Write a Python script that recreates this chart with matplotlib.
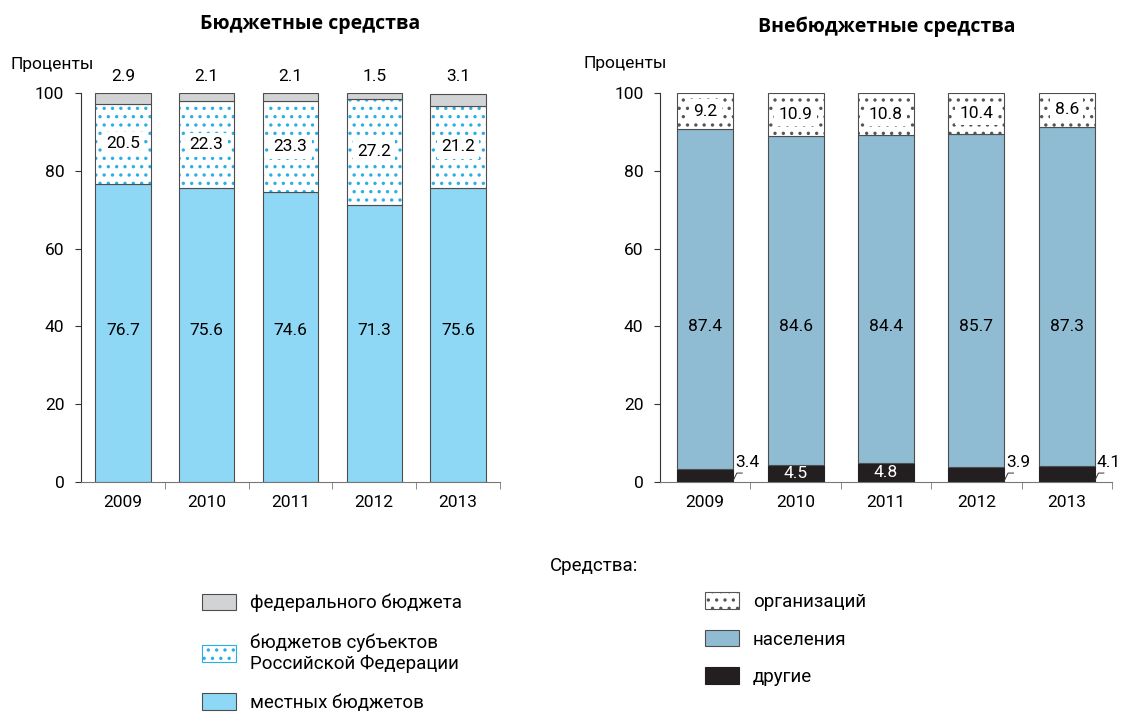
import matplotlib
matplotlib.use("Agg")
import matplotlib.pyplot as plt
from matplotlib.patches import Patch
import numpy as np

plt.rcParams['font.family'] = ['Roboto', 'DejaVu Sans']
plt.rcParams['hatch.linewidth'] = 1.2

years = ['2009', '2010', '2011', '2012', '2013']

# бюджетные средства
federal = [2.9, 2.1, 2.1, 1.5, 3.1]
subjects = [20.5, 22.3, 23.3, 27.2, 21.2]
local = [76.7, 75.6, 74.6, 71.3, 75.6]

# внебюджетные средства
other = [3.4, 4.5, 4.8, 3.9, 4.1]
population = [87.4, 84.6, 84.4, 85.7, 87.3]
organizations = [9.2, 10.9, 10.8, 10.4, 8.6]
other_inside = [False, True, True, False, False]

c_fed = '#d1d3d4'
c_loc = '#8fd8f5'
c_pop = '#8fbcd2'
c_oth = '#231f20'
c_cyan = '#29aee6'
c_edge = '#4d4d4d'
fs = 12.5

fig = plt.figure(figsize=(11.23, 7.16), dpi=100)
ax1 = fig.add_axes([0.0721, 0.3268, 0.373, 0.543])
ax2 = fig.add_axes([0.5877, 0.3268, 0.4025, 0.543])

x = np.arange(len(years))
box = dict(boxstyle='square,pad=0.25', fc='white', ec='none')


def style_axis(ax):
    ax.set_xlim(-0.5, 4.5)
    ax.set_ylim(0, 100)
    ax.spines['top'].set_visible(False)
    ax.spines['right'].set_visible(False)
    ax.spines['left'].set_color('#333333')
    ax.spines['bottom'].set_color('#777777')
    ax.set_yticks([0, 20, 40, 60, 80, 100])
    ax.tick_params(axis='y', length=4, color='#333333', labelsize=fs, pad=8)
    ax.set_xticks(x)
    ax.set_xticklabels(years)
    ax.tick_params(axis='x', length=0, labelsize=fs, pad=9)
    ax.set_xticks(np.arange(0.5, 5, 1), minor=True)
    ax.tick_params(axis='x', which='minor', length=5, color='#777777')


# ---- left chart
w1 = 0.66
loc = np.array(local)
sub = np.array(subjects)
ax1.bar(x, loc, w1, color=c_loc, edgecolor=c_edge, linewidth=0.8)
ax1.bar(x, sub, w1, bottom=loc, color='white', edgecolor=c_cyan,
        hatch='..', linewidth=0)
ax1.bar(x, sub, w1, bottom=loc, color='none', edgecolor=c_edge, linewidth=0.8)
ax1.bar(x, federal, w1, bottom=loc + sub, color=c_fed, edgecolor=c_edge,
        linewidth=0.8)
for i in range(len(years)):
    ax1.text(x[i], 39, f'{local[i]:.1f}', ha='center', va='center', fontsize=fs)
    ax1.text(x[i], loc[i] + sub[i] / 2, f'{subjects[i]:.1f}', ha='center',
             va='center', fontsize=fs, bbox=box)
    ax1.text(x[i], 102.5, f'{federal[i]:.1f}', ha='center', va='bottom',
             fontsize=fs, clip_on=False)
style_axis(ax1)

# ---- right chart
w2 = 0.62
oth = np.array(other)
pop = np.array(population)
ax2.bar(x, oth, w2, color=c_oth, edgecolor=c_oth, linewidth=0.8)
ax2.bar(x, pop, w2, bottom=oth, color=c_pop, edgecolor=c_edge, linewidth=0.8)
ax2.bar(x, organizations, w2, bottom=oth + pop, color='white',
        edgecolor='#555555', hatch='..', linewidth=0)
ax2.bar(x, organizations, w2, bottom=oth + pop, color='none',
        edgecolor=c_edge, linewidth=0.8)
for i in range(len(years)):
    ax2.text(x[i], 40, f'{population[i]:.1f}', ha='center', va='center',
             fontsize=fs)
    ax2.text(x[i], oth[i] + pop[i] + organizations[i] / 2,
             f'{organizations[i]:.1f}', ha='center', va='center', fontsize=fs,
             bbox=box)
    if other_inside[i]:
        ax2.text(x[i], oth[i] / 2, f'{other[i]:.1f}', ha='center',
                 va='center', fontsize=fs, color='white')
    else:
        xr = x[i] + w2 / 2
        ax2.plot([xr, xr + 0.04, xr + 0.1], [0.4, 2.3, 2.3], color='#333333',
                 lw=0.7, clip_on=False)
        ax2.text(xr + 0.02, 3.0, f'{other[i]:.1f}', ha='left', va='bottom',
                 fontsize=fs)
style_axis(ax2)

# titles and axis captions
fig.text(0.276, 0.966, 'Бюджетные средства', ha='center', va='center',
         fontsize=14, fontweight='bold', family=['Open Sans', 'DejaVu Sans'])
fig.text(0.790, 0.962, 'Внебюджетные средства', ha='center', va='center',
         fontsize=14, fontweight='bold', family=['Open Sans', 'DejaVu Sans'])
fig.text(0.009, 0.910, 'Проценты', ha='left', va='center', fontsize=fs)
fig.text(0.520, 0.912, 'Проценты', ha='left', va='center', fontsize=fs)

# legend
fig.text(0.529, 0.209, 'Средства:', ha='center', va='center', fontsize=13.5)
h_left = [
    Patch(facecolor=c_fed, edgecolor=c_edge, lw=0.8),
    Patch(facecolor='white', edgecolor=c_cyan, hatch='..', lw=0.8),
    Patch(facecolor=c_loc, edgecolor=c_edge, lw=0.8),
]
l_left = ['федерального бюджета', 'бюджетов субъектов\nРоссийской Федерации',
          'местных бюджетов']
h_right = [
    Patch(facecolor='white', edgecolor='#555555', hatch='..', lw=0.8),
    Patch(facecolor=c_pop, edgecolor=c_edge, lw=0.8),
    Patch(facecolor=c_oth, edgecolor=c_oth, lw=0.8),
]
l_right = ['организаций', 'населения', 'другие']
fig.legend(h_left, l_left, loc='upper left',
           bbox_to_anchor=(0.180, 0.171), frameon=False, fontsize=13.5,
           handlelength=1.8, handleheight=1.0, handletextpad=0.75,
           labelspacing=1.1, borderaxespad=0, borderpad=0)
fig.legend(h_right, l_right, loc='upper left',
           bbox_to_anchor=(0.628, 0.173), frameon=False, fontsize=13.5,
           handlelength=1.8, handleheight=1.0, handletextpad=0.75,
           labelspacing=1.0, borderaxespad=0, borderpad=0)

fig.savefig('out.png', dpi=100)
